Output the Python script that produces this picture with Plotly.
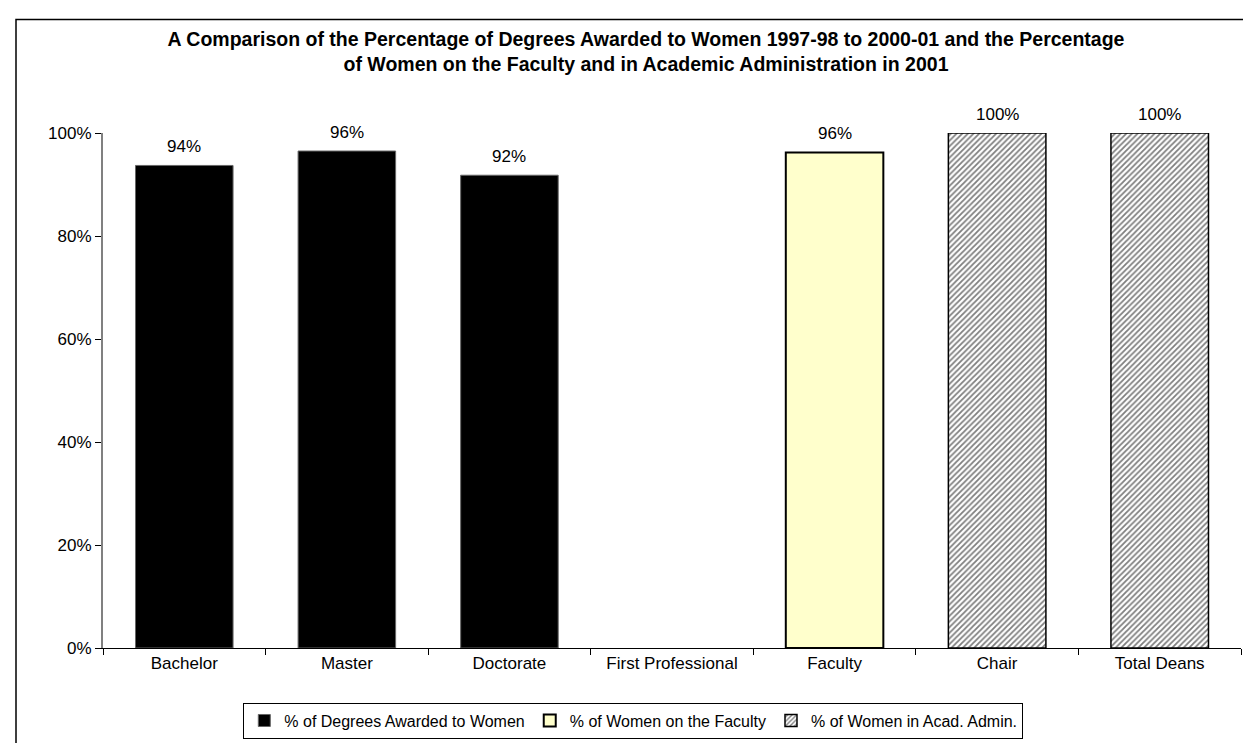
import plotly.graph_objects as go

categories = ["Bachelor", "Master", "Doctorate", "First Professional", "Faculty", "Chair", "Total Deans"]

degree_cats = ["Bachelor", "Master", "Doctorate", "First Professional"]
degree_vals = [0.937, 0.965, 0.918, None]

faculty_cats = ["Faculty"]
faculty_vals = [0.962]

admin_cats = ["Chair", "Total Deans"]
admin_vals = [1.0, 1.0]

y_ticks = [0, 0.2, 0.4, 0.6, 0.8, 1.0]
y_tick_labels = ["0%", "20%", "40%", "60%", "80%", "100%"]

FONT = "Liberation Sans, Arial, sans-serif"

fig = go.Figure()
fig.add_trace(go.Bar(
    x=degree_cats, y=degree_vals, name="% of Degrees Awarded to Women",
    width=0.6, marker=dict(color="#000000", line=dict(color="#666666", width=1)),
))
fig.add_trace(go.Bar(
    x=faculty_cats, y=faculty_vals, name="% of Women on the Faculty",
    width=0.6, marker=dict(color="#FFFFCC", line=dict(color="#000000", width=2)),
))
fig.add_trace(go.Bar(
    x=admin_cats, y=admin_vals, name="% of Women in Acad. Admin.",
    width=0.6, marker=dict(color="#FFFFFF", line=dict(color="#000000", width=1.5),
                           pattern=dict(shape="/", fgcolor="#000000", bgcolor="#FFFFFF",
                                        size=4, solidity=0.45)),
))

annotations = []
for cats, vals in [(degree_cats, degree_vals), (faculty_cats, faculty_vals), (admin_cats, admin_vals)]:
    for c, v in zip(cats, vals):
        if v is None:
            continue
        annotations.append(dict(
            x=c, y=v, xref="x", yref="y", text=f"{round(v * 100)}%",
            showarrow=False, yshift=19, yanchor="middle",
            font=dict(family=FONT, size=17, color="#000000"),
        ))

fig.update_layout(
    width=1251, height=743,
    margin=dict(l=95, r=18, t=125, b=96),
    paper_bgcolor="#FFFFFF", plot_bgcolor="#FFFFFF",
    barmode="overlay",
    font=dict(family=FONT, size=17, color="#000000"),
    title=dict(
        text="<b>A Comparison of the Percentage of Degrees Awarded to Women 1997-98 to 2000-01 and the Percentage<br>of Women on the Faculty and in Academic Administration in 2001</b>",
        x=0.51, xanchor="center", xref="container",
        y=1 - 38 / 743, yanchor="top", yref="container",
        font=dict(family=FONT, size=19.5, color="#000000"),
    ),
    xaxis=dict(
        type="category", categoryorder="array", categoryarray=categories,
        range=[-0.5, 6.5], tickson="boundaries", ticks="outside", ticklen=6,
        tickcolor="#000000", showline=True, linecolor="#000000", linewidth=1,
        showgrid=False, zeroline=False, tickfont=dict(family=FONT, size=17),
    ),
    yaxis=dict(
        range=[0, 1], tickvals=y_ticks, ticktext=y_tick_labels,
        ticks="outside", ticklen=6, tickcolor="#000000",
        showline=True, linecolor="#808080", linewidth=2,
        showgrid=False, zeroline=False, tickfont=dict(family=FONT, size=17),
    ),
    legend=dict(
        orientation="h", x=0.466, xanchor="center", y=-0.106, yanchor="top",
        bordercolor="#000000", borderwidth=1, bgcolor="#FFFFFF",
        font=dict(family=FONT, size=16), itemwidth=30, tracegroupgap=0,
    ),
    annotations=annotations,
    shapes=[dict(
        type="rect", xref="paper", yref="paper",
        x0=(8 - 95) / 1138, x1=1.3, y0=-0.5, y1=(647 - 10) / 522,
        line=dict(color="#000000", width=1.5), fillcolor="rgba(0,0,0,0)", layer="below",
    )],
    showlegend=True,
)

fig.write_html("out.html")
